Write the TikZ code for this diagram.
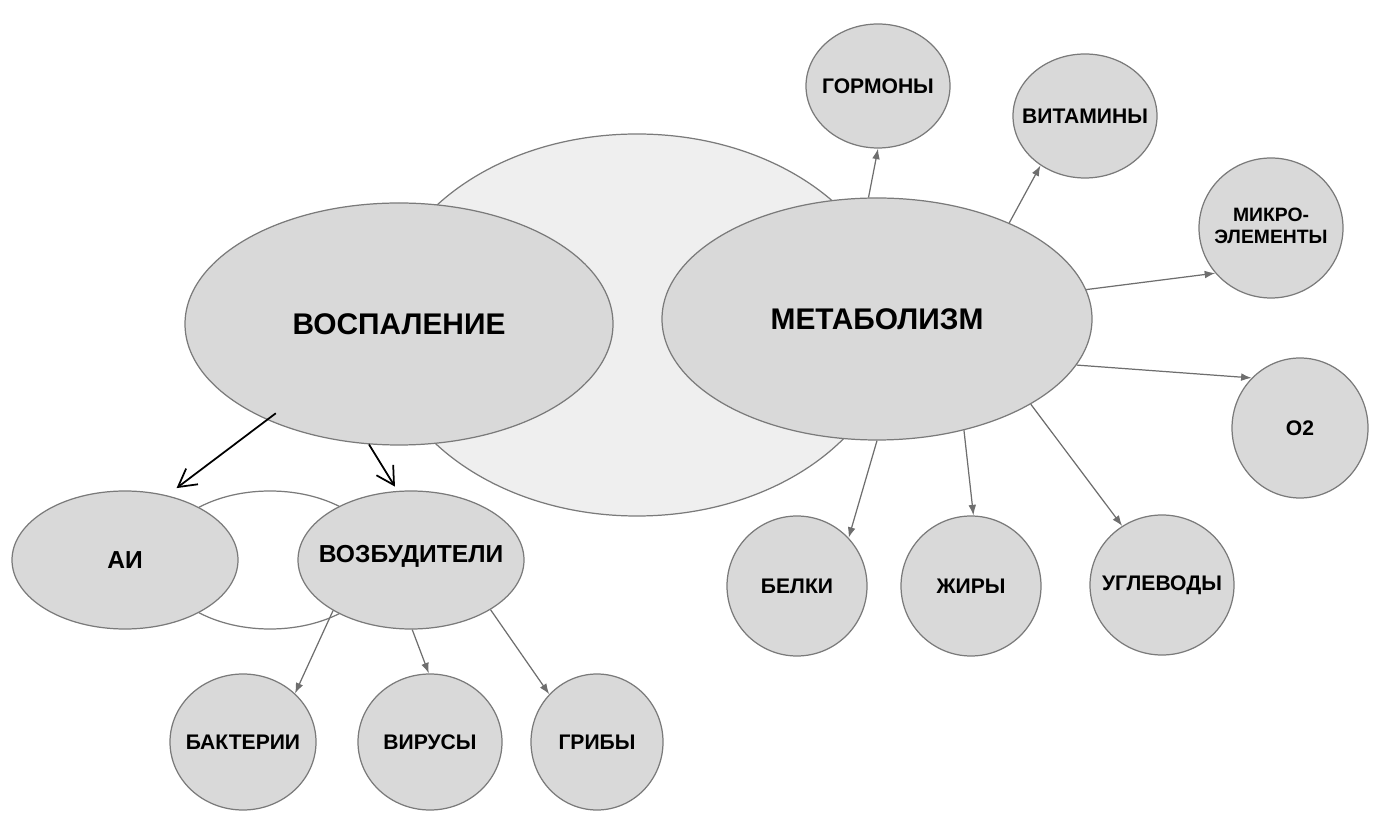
\documentclass[tikz,border=0pt]{standalone}
\usepackage{fontspec}
\setmainfont{Liberation Sans}
\usetikzlibrary{shapes.geometric,arrows.meta}

\definecolor{bubblefill}{HTML}{D9D9D9}
\definecolor{backfill}{HTML}{EFEFEF}
\definecolor{rimgray}{HTML}{7A7A7A}
\definecolor{arrowgray}{HTML}{6E6E6E}

% text of zero width, so the bubble keeps its own size
\newcommand{\nowide}[1]{\makebox[0pt]{#1}}

\begin{document}
\begin{tikzpicture}[x=0.1mm,y=-0.1mm,
	bubble/.style={ellipse,draw=rimgray,fill=bubblefill,line width=0.35pt,inner sep=0pt},
	dims/.style 2 args={minimum width=#1,minimum height=#2},
	big/.style={bubble,font=\fontsize{8.5pt}{10pt}\selectfont\bfseries},
	mid/.style={bubble,font=\fontsize{7pt}{8pt}\selectfont\bfseries},
	small/.style={bubble,font=\fontsize{6pt}{7pt}\selectfont\bfseries},
	feed/.style={draw=arrowgray,line width=0.35pt,-{Latex[length=3pt,width=2.2pt]}},
	pointer/.style={draw=black,line width=0.5pt,-{Straight Barb[length=5pt,width=5.6pt]}}]

	\useasboundingbox (0,0) rectangle (1379,814);

	% background rings
	\node[bubble,fill=backfill,dims={51.4mm}{38.2mm}] (venn) at (637,325) {};
	\node[bubble,fill=white,dims={22mm}{13.8mm}] (pair) at (270,560) {};

	% main bubbles
	\node[big,dims={42.8mm}{24.2mm}] (vosp) at (399,324) {ВОСПАЛЕНИЕ};
	\node[big,dims={43mm}{24.2mm}] (metab) at (877,319) {МЕТАБОЛИЗМ};
	\node[mid,dims={22.6mm}{13.8mm}] (ai) at (125,560) {АИ};
	\node[mid,dims={22.6mm}{13.8mm},text depth=3.5pt] (vozb) at (411,560) {\nowide{ВОЗБУДИТЕЛИ}};

	% around the metabolism
	\node[small,dims={14.4mm}{12.4mm}] (horm) at (878,86) {\nowide{ГОРМОНЫ}};
	\node[small,dims={14.4mm}{12.4mm}] (vitam) at (1085,116) {\nowide{ВИТАМИНЫ}};
	\node[small,dims={14.4mm}{14mm},font=\fontsize{5.5pt}{6.3pt}\selectfont\bfseries] (mikro) at (1271,228)
		{\nowide{\begin{tabular}{@{}c@{}}МИКРО-\\ЭЛЕМЕНТЫ\end{tabular}}};
	\node[small,dims={13.6mm}{14mm}] (otwo) at (1300,428) {O2};
	\node[small,dims={14mm}{14mm}] (belki) at (797,586) {\nowide{БЕЛКИ}};
	\node[small,dims={14mm}{14mm}] (zhiry) at (971,586) {\nowide{ЖИРЫ}};
	\node[small,dims={14.4mm}{14mm}] (uglev) at (1162,585) {\nowide{УГЛЕВОДЫ}};

	% under the agents
	\node[small,dims={14.6mm}{13.6mm}] (bakt) at (243,742) {\nowide{БАКТЕРИИ}};
	\node[small,dims={14.4mm}{13.6mm}] (virus) at (430,742) {\nowide{ВИРУСЫ}};
	\node[small,dims={13.2mm}{13.6mm}] (griby) at (597,742) {\nowide{ГРИБЫ}};

	\draw[feed] (metab.94) -- (horm.-90);
	\draw[feed] (metab.36) -- (vitam.-132);
	\draw[feed] (metab.8) -- (mikro.-141);
	\draw[feed] (metab.-13) -- (otwo.134);
	\draw[feed] (metab.-90) -- (belki.43);
	\draw[feed] (metab.-52) -- (zhiry.88);
	\draw[feed] (metab.-29) -- (uglev.124);

	\draw[feed] (vozb.-147) -- (bakt.43);
	\draw[feed] (vozb.-89) -- (virus.91);
	\draw[feed] (vozb.-32) -- (griby.135);

	\draw[pointer,shorten <=-1.1mm,shorten >=1.2mm] (vosp.-144) -- (ai.57);
	\draw[pointer,shorten >=0.5mm] (vosp.-104) -- (vozb.101);

\end{tikzpicture}
\end{document}
